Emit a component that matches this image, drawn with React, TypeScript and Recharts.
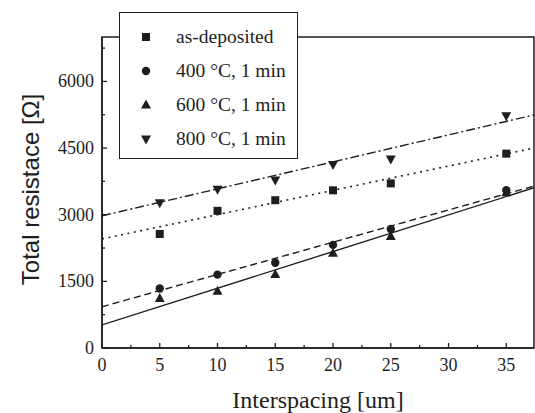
import { ComposedChart, Line, Scatter, XAxis, YAxis, Legend, ReferenceArea } from "recharts";

// measured values (interspacing in um, resistance in ohm)
const spacing = [5, 10, 15, 20, 25, 35];
const asDeposited = [2567, 3087, 3326, 3549, 3705, 4375];
const anneal400 = [1339, 1652, 1920, 2321, 2679, 3549];
const anneal600 = [1116, 1279, 1652, 2134, 2507, 3496];
const anneal800 = [3272, 3571, 3779, 4129, 4254, 5230];

// linear fit lines, read at the left and right edge of the plot
const fitX = [0, 37.4];
const fitAsDeposited = [2455, 4500];
const fit400 = [929, 3645];
const fit600 = [520, 3607];
const fit800 = [2975, 5246];

const seriesNames = ["as-deposited", "400 °C, 1 min", "600 °C, 1 min", "800 °C, 1 min"];
const xTicks = [0, 2.5, 5, 7.5, 10, 12.5, 15, 17.5, 20, 22.5, 25, 27.5, 30, 32.5, 35];
const yTicks = [0, 750, 1500, 2250, 3000, 3750, 4500, 5250, 6000, 6750];
const xDomain = [0, 37.4];
const yDomain = [0, 7000];

const ink = "#1e1e1e";
const serif = "'Liberation Serif', 'Times New Roman', serif";

const toPoints = (xs: number[], ys: number[]) => xs.map((x, i) => ({ x, y: ys[i] }));

type Kind = "square" | "circle" | "up" | "down";
const kinds: Kind[] = ["square", "circle", "up", "down"];

function Marker({ kind, cx, cy }: { kind: Kind; cx: number; cy: number }) {
  if (kind === "square") return <rect x={cx - 4} y={cy - 4} width={8} height={8} fill={ink} />;
  if (kind === "circle") return <circle cx={cx} cy={cy} r={4.2} fill={ink} />;
  if (kind === "up")
    return <polygon points={`${cx},${cy - 5.5} ${cx + 5},${cy + 3.5} ${cx - 5},${cy + 3.5}`} fill={ink} />;
  return <polygon points={`${cx},${cy + 5.5} ${cx + 5},${cy - 3.5} ${cx - 5},${cy - 3.5}`} fill={ink} />;
}

const shapeFor = (kind: Kind) => (p: any) => <Marker kind={kind} cx={p.cx} cy={p.cy} />;

const renderXTick = ({ x, y, payload }: any) => {
  const major = payload.value % 5 === 0;
  return (
    <g>
      <line x1={x} x2={x} y1={y} y2={y - (major ? 5 : 3)} stroke={ink} strokeWidth={1.3} />
      {major && (
        <text x={x} y={y + 23} textAnchor="middle" fontFamily={serif} fontSize={18} fill={ink}>
          {payload.value}
        </text>
      )}
    </g>
  );
};

const renderYTick = ({ x, y, payload }: any) => {
  const major = payload.value % 1500 === 0;
  return (
    <g>
      <line x1={x} x2={x + (major ? 5 : 3)} y1={y} y2={y} stroke={ink} strokeWidth={1.3} />
      {major && (
        <text x={x - 8} y={y + 6} textAnchor="end" fontFamily={serif} fontSize={18} fill={ink}>
          {payload.value}
        </text>
      )}
    </g>
  );
};

const renderYLabel = ({ viewBox }: any) => (
  <text
    transform={`translate(${viewBox.x + 39}, ${viewBox.y + viewBox.height / 2 - 3}) rotate(-90)`}
    textAnchor="middle"
    fontFamily="'Liberation Sans', Arial, sans-serif"
    fontSize={24}
    fill={ink}
  >
    Total resistace [Ω]
  </text>
);

const renderLegend = () => (
  <div
    style={{
      position: "relative",
      width: 179,
      height: 147,
      boxSizing: "border-box",
      border: `1.5px solid ${ink}`,
      background: "#fff",
    }}
  >
    {seriesNames.map((name, i) => (
      <div key={name} style={{ position: "absolute", left: 0, top: 11 + i * 34, height: 26, width: 178 }}>
        <svg width={20} height={26} style={{ position: "absolute", left: 16, top: 0 }}>
          <Marker kind={kinds[i]} cx={10} cy={13} />
        </svg>
        <span
          style={{
            position: "absolute",
            left: 56,
            top: 0,
            lineHeight: "26px",
            fontFamily: serif,
            fontSize: 19.5,
            color: ink,
            whiteSpace: "nowrap",
          }}
        >
          {name}
        </span>
      </div>
    ))}
  </div>
);

export default function App() {
  return (
    <div style={{ position: "absolute", left: 0, top: 0, width: 535, height: 413, background: "#fff" }}>
      <ComposedChart width={535} height={413} margin={{ top: 37, right: 1, bottom: 0, left: 0 }}>
        <XAxis
          dataKey="x"
          type="number"
          domain={xDomain}
          ticks={xTicks}
          allowDataOverflow
          height={65}
          tickSize={0}
          tickMargin={0}
          tick={renderXTick}
          axisLine={{ stroke: ink, strokeWidth: 1.5 }}
          label={{
            value: "Interspacing [um]",
            position: "insideBottom",
            offset: 5,
            style: { fontFamily: serif, fontSize: 24, fill: ink },
          }}
        />
        <YAxis
          dataKey="y"
          type="number"
          domain={yDomain}
          ticks={yTicks}
          width={102}
          tickSize={0}
          tickMargin={0}
          tick={renderYTick}
          axisLine={{ stroke: ink, strokeWidth: 1.5 }}
          label={{ content: renderYLabel }}
        />
        {/* plot frame */}
        <ReferenceArea x1={xDomain[0]} x2={xDomain[1]} y1={yDomain[0]} y2={yDomain[1]} fill="none" stroke={ink} strokeWidth={1.5} />
        <Line data={toPoints(fitX, fit800)} dataKey="y" stroke={ink} strokeWidth={1.4} strokeDasharray="9 3 2 3" dot={false} legendType="none" isAnimationActive={false} />
        <Line data={toPoints(fitX, fitAsDeposited)} dataKey="y" stroke={ink} strokeWidth={1.6} strokeDasharray="2 4.5" dot={false} legendType="none" isAnimationActive={false} />
        <Line data={toPoints(fitX, fit400)} dataKey="y" stroke={ink} strokeWidth={1.4} strokeDasharray="7 4" dot={false} legendType="none" isAnimationActive={false} />
        <Line data={toPoints(fitX, fit600)} dataKey="y" stroke={ink} strokeWidth={1.4} dot={false} legendType="none" isAnimationActive={false} />
        <Scatter name={seriesNames[0]} data={toPoints(spacing, asDeposited)} shape={shapeFor("square")} isAnimationActive={false} />
        <Scatter name={seriesNames[1]} data={toPoints(spacing, anneal400)} shape={shapeFor("circle")} isAnimationActive={false} />
        <Scatter name={seriesNames[2]} data={toPoints(spacing, anneal600)} shape={shapeFor("up")} isAnimationActive={false} />
        <Scatter name={seriesNames[3]} data={toPoints(spacing, anneal800)} shape={shapeFor("down")} isAnimationActive={false} />
        <Legend
          layout="vertical"
          align="center"
          verticalAlign="middle"
          content={renderLegend}
          wrapperStyle={{ left: 119, top: 12, width: 179, height: 147 }}
        />
      </ComposedChart>
    </div>
  );
}
